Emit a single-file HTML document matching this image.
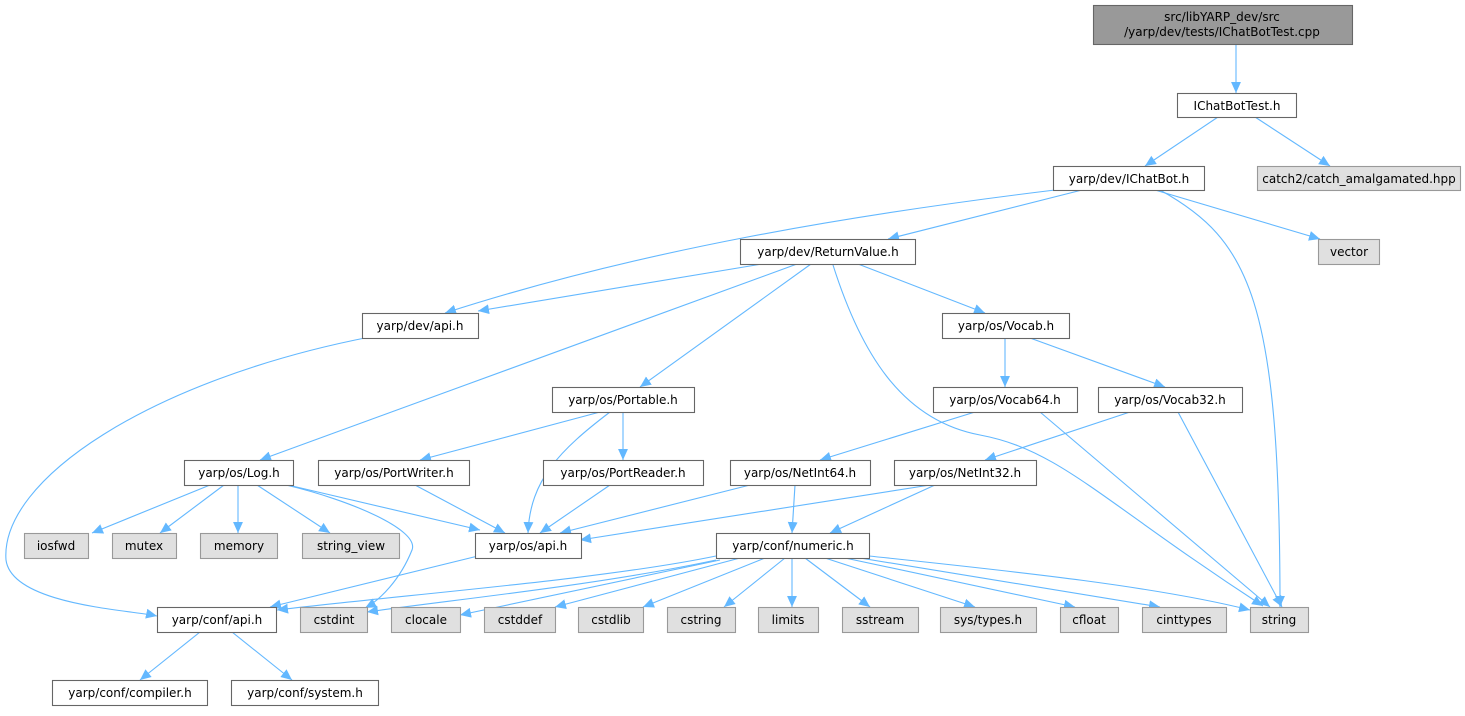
<!DOCTYPE html>
<html><head><meta charset="utf-8"><style>
body{margin:0;background:#fff;width:1465px;height:711px;overflow:hidden}
svg text{font-family:"DejaVu Sans","Liberation Sans",sans-serif;font-size:12px;fill:#000}
</style></head><body>
<svg width="1465" height="711" xmlns="http://www.w3.org/2000/svg">
<defs><marker id="a" viewBox="0 0 10 10" refX="10" refY="5" markerWidth="11" markerHeight="11" orient="auto" markerUnits="userSpaceOnUse"><path d="M0,0.5L10,5L0,9.5z" fill="#63b8ff"/></marker></defs>
<g fill="none" stroke="#63b8ff" stroke-width="1.1" marker-end="url(#a)">
<path d="M1236,44L1236,93"/>
<path d="M1218,117L1145,166"/>
<path d="M1255,117L1330,166"/>
<path d="M1082,190L888,239"/>
<path d="M1055,190C850,215 640,250 445,313"/>
<path d="M1155,190L1320,239"/>
<path d="M1160,190C1250,240 1280,300 1280,607"/>
<path d="M762,264L478,311"/>
<path d="M858,264L985,313"/>
<path d="M811,264L640,387"/>
<path d="M797,264L260,460"/>
<path d="M833,265C860,350 900,420 980,435C1060,450 1100,500 1263,606"/>
<path d="M370,337C150,380 0,480 6,560C12,605 130,610 157,616"/>
<path d="M1005,338L1005,387"/>
<path d="M1030,338L1165,387"/>
<path d="M975,412L820,460"/>
<path d="M1040,412L1270,607"/>
<path d="M1130,412L985,460"/>
<path d="M1178,412L1282,607"/>
<path d="M600,412L420,460"/>
<path d="M623,412L623,460"/>
<path d="M610,412C560,450 530,480 528,533"/>
<path d="M210,485L92,533"/>
<path d="M224,485L160,533"/>
<path d="M238,485L238,533"/>
<path d="M257,485L330,533"/>
<path d="M288,485L480,530"/>
<path d="M286,485C350,500 420,530 412,550C400,580 380,600 365,608"/>
<path d="M415,485L505,533"/>
<path d="M610,485L540,533"/>
<path d="M750,485L560,533"/>
<path d="M795,485L792,533"/>
<path d="M930,485L580,540"/>
<path d="M935,485L830,533"/>
<path d="M478,556L270,607"/>
<path d="M716,556C600,580 400,595 277,610"/>
<path d="M716,560C600,585 450,600 367,612"/>
<path d="M720,560L460,615"/>
<path d="M740,558L555,607"/>
<path d="M765,558L643,607"/>
<path d="M785,558L724,607"/>
<path d="M792,558L792,607"/>
<path d="M805,558L870,607"/>
<path d="M825,558L975,607"/>
<path d="M845,558L1075,607"/>
<path d="M860,558L1160,607"/>
<path d="M869,556C1000,570 1150,585 1250,610"/>
<path d="M200,632L140,680"/>
<path d="M232,632L292,680"/>
</g>
<g stroke-width="1.1">
<rect x="1093.5" y="5.5" width="259" height="39" fill="#999" stroke="#666"/>
<text x="1222" y="21" text-anchor="middle">src/libYARP_dev/src</text>
<text x="1222" y="36" text-anchor="middle">/yarp/dev/tests/IChatBotTest.cpp</text>
<g fill="#fff" stroke="#666">
<rect x="1177.5" y="93.5" width="119" height="24"/>
<rect x="1053.5" y="166.5" width="151" height="24"/>
<rect x="740.5" y="239.5" width="175" height="25"/>
<rect x="362.5" y="313.5" width="116" height="25"/>
<rect x="942.5" y="313.5" width="127" height="25"/>
<rect x="552.5" y="387.5" width="142" height="25"/>
<rect x="933.5" y="387.5" width="144" height="25"/>
<rect x="1098.5" y="387.5" width="144" height="25"/>
<rect x="184.5" y="460.5" width="109" height="25"/>
<rect x="318.5" y="460.5" width="151" height="25"/>
<rect x="543.5" y="460.5" width="160" height="25"/>
<rect x="730.5" y="460.5" width="140" height="25"/>
<rect x="894.5" y="460.5" width="142" height="25"/>
<rect x="475.5" y="533.5" width="106" height="25"/>
<rect x="716.5" y="533.5" width="153" height="25"/>
<rect x="157.5" y="607.5" width="119" height="25"/>
<rect x="52.5" y="680.5" width="155" height="25"/>
<rect x="231.5" y="680.5" width="147" height="25"/>
</g>
<g fill="#e0e0e0" stroke="#999">
<rect x="1257.5" y="166.5" width="203" height="24"/>
<rect x="1318.5" y="239.5" width="61" height="25"/>
<rect x="24.5" y="533.5" width="64" height="25"/>
<rect x="112.5" y="533.5" width="64" height="25"/>
<rect x="200.5" y="533.5" width="77" height="25"/>
<rect x="302.5" y="533.5" width="97" height="25"/>
<rect x="300.5" y="607.5" width="67" height="25"/>
<rect x="391.5" y="607.5" width="69" height="25"/>
<rect x="484.5" y="607.5" width="71" height="25"/>
<rect x="578.5" y="607.5" width="65" height="25"/>
<rect x="667.5" y="607.5" width="68" height="25"/>
<rect x="758.5" y="607.5" width="60" height="25"/>
<rect x="842.5" y="607.5" width="76" height="25"/>
<rect x="940.5" y="607.5" width="96" height="25"/>
<rect x="1060.5" y="607.5" width="58" height="25"/>
<rect x="1142.5" y="607.5" width="84" height="25"/>
<rect x="1250.5" y="607.5" width="58" height="25"/>
</g>
</g>
<g text-anchor="middle">
<text x="1237" y="110">IChatBotTest.h</text>
<text x="1129" y="183">yarp/dev/IChatBot.h</text>
<text x="1359" y="183">catch2/catch_amalgamated.hpp</text>
<text x="828" y="256">yarp/dev/ReturnValue.h</text>
<text x="1349" y="256">vector</text>
<text x="420" y="330">yarp/dev/api.h</text>
<text x="1006" y="330">yarp/os/Vocab.h</text>
<text x="623" y="404">yarp/os/Portable.h</text>
<text x="1005" y="404">yarp/os/Vocab64.h</text>
<text x="1170" y="404">yarp/os/Vocab32.h</text>
<text x="239" y="477">yarp/os/Log.h</text>
<text x="394" y="477">yarp/os/PortWriter.h</text>
<text x="623" y="477">yarp/os/PortReader.h</text>
<text x="800" y="477">yarp/os/NetInt64.h</text>
<text x="965" y="477">yarp/os/NetInt32.h</text>
<text x="56" y="550">iosfwd</text>
<text x="144" y="550">mutex</text>
<text x="239" y="550">memory</text>
<text x="351" y="550">string_view</text>
<text x="528" y="550">yarp/os/api.h</text>
<text x="793" y="550">yarp/conf/numeric.h</text>
<text x="217" y="624">yarp/conf/api.h</text>
<text x="334" y="624">cstdint</text>
<text x="426" y="624">clocale</text>
<text x="520" y="624">cstddef</text>
<text x="611" y="624">cstdlib</text>
<text x="701" y="624">cstring</text>
<text x="788" y="624">limits</text>
<text x="880" y="624">sstream</text>
<text x="988" y="624">sys/types.h</text>
<text x="1089" y="624">cfloat</text>
<text x="1184" y="624">cinttypes</text>
<text x="1279" y="624">string</text>
<text x="130" y="697">yarp/conf/compiler.h</text>
<text x="305" y="697">yarp/conf/system.h</text>
</g>
</svg>
</body></html>
